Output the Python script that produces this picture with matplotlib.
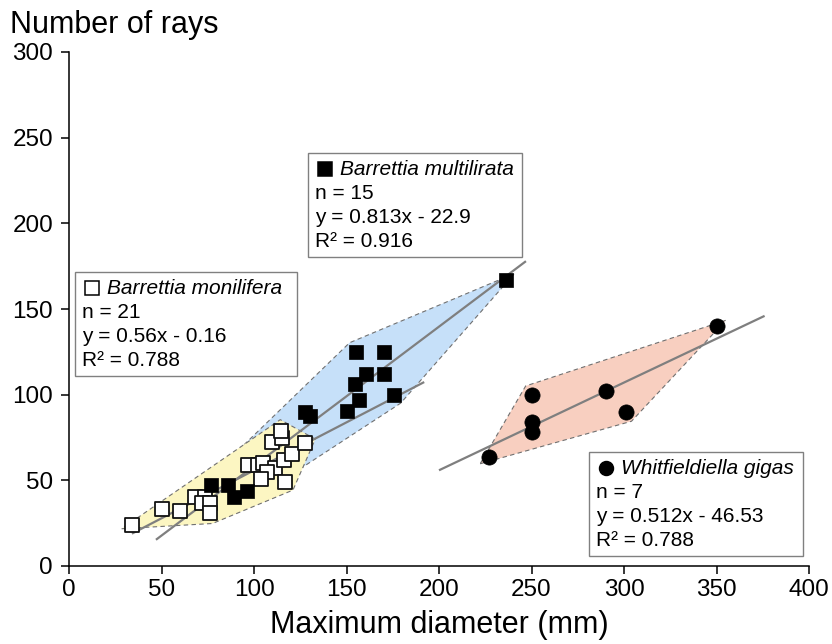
import numpy as np
import matplotlib
matplotlib.use('Agg')
import matplotlib.pyplot as plt
from matplotlib.patches import Polygon, Rectangle
from matplotlib.lines import Line2D

plt.rcParams['font.family'] = ['Liberation Sans', 'DejaVu Sans']

# Barrettia monilifera (open squares)
moni_x = [34, 50, 60, 68, 73.5, 72, 76, 76, 97, 102, 105, 111.5, 107, 104,
          117, 116, 120.5, 109.5, 127.5, 115, 114.5]
moni_y = [24, 33, 32, 40, 40, 37, 37, 31, 59, 59, 60, 57, 55, 51,
          49, 62, 65.5, 72.5, 72, 74.5, 79]

# Barrettia multilirata (filled squares)
multi_x = [77, 86, 89, 96, 127.5, 130, 150.5, 154.5, 155, 157, 160.5,
           170.5, 170.5, 175.5, 236]
multi_y = [47, 47, 40, 44, 90, 87.5, 90.5, 106, 125, 97, 112,
           125, 112, 100, 167]

# Whitfieldiella gigas (filled circles)
gigas_x = [227, 250.5, 250.5, 250.5, 290.5, 301, 350]
gigas_y = [63.5, 100, 84, 78, 102, 90, 140]

# regression lines: slope, intercept, x range
fit_slope = [0.56, 0.813, 0.512]
fit_icpt = [-0.16, -22.9, -46.53]
fit_xmin = [34, 47, 200]
fit_xmax = [192, 247, 376]

x_ticks = [0, 50, 100, 150, 200, 250, 300, 350, 400]
y_ticks = [0, 50, 100, 150, 200, 250, 300]

W, H = 832, 644


def fx(px):
    return px / W


def fy(py):
    return 1 - py / H


def convex_hull(pts):
    pts = sorted(set(map(tuple, pts)))

    def cross(o, a, b):
        return (a[0] - o[0]) * (b[1] - o[1]) - (a[1] - o[1]) * (b[0] - o[0])

    lower = []
    for p in pts:
        while len(lower) >= 2 and cross(lower[-2], lower[-1], p) <= 0:
            lower.pop()
        lower.append(p)
    upper = []
    for p in reversed(pts):
        while len(upper) >= 2 and cross(upper[-2], upper[-1], p) <= 0:
            upper.pop()
        upper.append(p)
    return np.array(lower[:-1] + upper[:-1])


def padded_hull(ax, xs, ys, d=11.0):
    # hull in pixel space, each corner pushed outward a few pixels
    disp = ax.transData.transform(np.column_stack([xs, ys]))
    hv = convex_hull(disp)
    n = len(hv)
    out = []
    for i in range(n):
        p, v, q = hv[i - 1], hv[i], hv[(i + 1) % n]
        e1 = v - p
        e2 = q - v
        n1 = np.array([e1[1], -e1[0]]) / np.hypot(*e1)
        n2 = np.array([e2[1], -e2[0]]) / np.hypot(*e2)
        nm = n1 + n2
        nm = nm / np.hypot(*nm)
        out.append(v + d * nm)
    return ax.transData.inverted().transform(np.array(out))


fig = plt.figure(figsize=(W / 100, H / 100), dpi=100)
ax = fig.add_axes([fx(69), fy(566), (809 - 69) / W, (566 - 52) / H])
ax.set_xlim(0, 400)
ax.set_ylim(0, 300)

# hull envelopes
for xs, ys, col in [(multi_x, multi_y, '#c6e0f9'),
                    (moni_x, moni_y, '#fcf6c2'),
                    (gigas_x, gigas_y, '#f8cfc0')]:
    poly = padded_hull(ax, xs, ys)
    ax.add_patch(Polygon(poly, closed=True, facecolor=col, edgecolor='#707070',
                         linewidth=0.8, linestyle=(0, (4, 3)), zorder=1))

# fitted lines
for a, b, x0, x1 in zip(fit_slope, fit_icpt, fit_xmin, fit_xmax):
    xx = np.array([x0, x1])
    ax.plot(xx, a * xx + b, color='#7f7f7f', linewidth=1.6, zorder=2,
            solid_capstyle='butt')

ax.scatter(moni_x, moni_y, marker='s', s=100, facecolor='white',
           edgecolor='#111111', linewidth=1.3, zorder=3)
ax.scatter(multi_x, multi_y, marker='s', s=105, facecolor='black',
           edgecolor='black', linewidth=0.5, zorder=4)
ax.scatter(gigas_x, gigas_y, marker='o', s=120, facecolor='black',
           edgecolor='black', linewidth=0.5, zorder=4)

for side in ['top', 'right']:
    ax.spines[side].set_visible(False)
for side in ['left', 'bottom']:
    ax.spines[side].set_linewidth(1.1)
ax.set_xticks(x_ticks)
ax.set_yticks(y_ticks)
ax.tick_params(direction='out', length=5.5, width=1.1, labelsize=17.5)
ax.tick_params(axis='y', pad=6)
ax.tick_params(axis='x', pad=4)
ax.set_xlabel('Maximum diameter (mm)', fontsize=22, labelpad=6)
fig.text(fx(10), fy(33), 'Number of rays', fontsize=22, va='baseline', ha='left')

# legend boxes: (left, top, right, bottom) in pixels, marker, lines
boxes = [
    ((308, 153, 522, 257), 's', 'black', 'Barrettia multilirata',
     ['n = 15', 'y = 0.813x - 22.9', 'R² = 0.916']),
    ((75, 272, 297, 376), 's', 'white', 'Barrettia monilifera',
     ['n = 21', 'y = 0.56x - 0.16', 'R² = 0.788']),
    ((589, 452, 803, 556), 'o', 'black', 'Whitfieldiella gigas',
     ['n = 7', 'y = 0.512x - 46.53', 'R² = 0.788']),
]
for (x0, y0, x1, y1), mk, mfc, name, lines in boxes:
    fig.add_artist(Rectangle((fx(x0), fy(y1)), (x1 - x0) / W, (y1 - y0) / H,
                             transform=fig.transFigure, facecolor='white',
                             edgecolor='#808080', linewidth=1.0, zorder=5))
    fig.add_artist(Line2D([fx(x0 + 17)], [fy(y0 + 16)], marker=mk,
                          markersize=10, markerfacecolor=mfc,
                          markeredgecolor='black', markeredgewidth=1.1,
                          transform=fig.transFigure, zorder=6))
    fig.text(fx(x0 + 32), fy(y0 + 22), name, fontsize=15, style='italic',
             va='baseline', ha='left', zorder=6)
    for i, ln in enumerate(lines):
        fig.text(fx(x0 + 7), fy(y0 + 46 + 24 * i), ln, fontsize=15,
                 va='baseline', ha='left', zorder=6)

fig.savefig('out.png', dpi=100)
